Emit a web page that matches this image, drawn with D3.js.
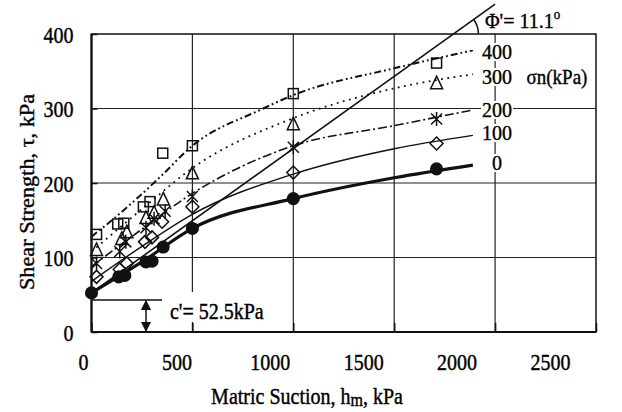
<!DOCTYPE html>
<html><head><meta charset="utf-8">
<script src="https://cdn.jsdelivr.net/npm/d3@7/dist/d3.min.js"></script>
<style>
body{margin:0;background:#fff;}
svg text{font-family:"Liberation Serif","Times New Roman","DejaVu Serif",serif !important;fill:#000;stroke:#000;stroke-width:0.35px;}
</style></head>
<body><svg id="c" width="622" height="412"></svg>
<script>
// ---- data ----
const normalStress = [0, 100, 200, 300, 400];
const cPrime = 52.5;
const phiDeg = 11.1;
const xTicks = [0, 500, 1000, 1500, 2000, 2500];
const yTicks = [0, 100, 200, 300, 400];
// measured points [suction kPa, shear strength kPa]
const pts0   = [[0,52.5],[135,74],[165,76],[270,94],[300,95],[355,114],[500,139],[1000,179],[1710,219]];
const pts100 = [[25,74],[140,84],[175,92],[265,121],[300,127],[350,148],[500,168],[1000,214],[1710,253]];
const pts200 = [[25,92],[140,108],[170,121],[270,140],[310,152],[365,162],[500,182],[1000,248],[1710,286]];
const pts300 = [[25,110],[150,125],[175,134],[270,153],[310,160],[356,178],[500,213],[1000,279],[1710,334]];
const pts400 = [[25,131],[130,145],[160,146],[257,168],[290,175],[353,240],[500,250],[1000,320],[1710,361]];
// fitted curves
const fit0   = [[0,52.5],[250,94],[500,139],[1000,179],[1500,207],[1890,224]];
const fit100 = [[0,68],[250,115],[500,158],[1000,212],[1500,246],[1890,264]];
const fit200 = [[0,88],[250,138],[500,186],[1000,250],[1500,277],[1890,298]];
const fit300 = [[0,108],[250,165],[500,220],[1000,287],[1500,327],[1890,346]];
const fit400 = [[0,128],[110,152],[340,208],[500,250],[835,298],[1000,318],[1500,354],[1890,378]];
// phi' envelope end points
const phiLine = [[0,52.5],[2000,440]];

const FONT = '"Liberation Serif","Times New Roman","DejaVu Serif",serif';
const SY = 1.2; // vertical stretch of lettering as in the scanned figure
const svg = d3.select("#c");
const x = d3.scaleLinear().domain([0,2500]).range([91.5,596]);
const y = d3.scaleLinear().domain([0,400]).range([332,34]);
const xLab = d3.scaleLinear().domain([0,2500]).range([83,550]);

function txt(px, py, anchor, size, sy){
 return svg.append("text").attr("transform",`translate(${px},${py}) scale(1,${sy===undefined?SY:sy})`)
  .attr("text-anchor",anchor).style("font-size",size+"px");
}

// grid
const g = svg.append("g");
g.selectAll(".hg").data([100,200,300]).enter().append("line")
 .attr("x1",x(0)).attr("x2",x(2500)).attr("y1",d=>y(d)).attr("y2",d=>y(d))
 .attr("stroke","#222").attr("stroke-width",1.2);
g.selectAll(".vg").data([500,1000,1500,2000]).enter().append("line")
 .attr("y1",y(0)).attr("y2",y(400)).attr("x1",d=>x(d)).attr("x2",d=>x(d))
 .attr("stroke","#222").attr("stroke-width",1.2);

// frame
svg.append("rect").attr("x",x(0)).attr("y",y(400)).attr("width",x(2500)-x(0)).attr("height",y(0)-y(400))
 .attr("fill","none").attr("stroke","#111").attr("stroke-width",1.5);
svg.append("line").attr("x1",x(0)).attr("x2",x(0)).attr("y1",y(0)).attr("y2",y(400)).attr("stroke","#111").attr("stroke-width",2.2);
svg.append("line").attr("x1",x(0)).attr("x2",x(2500)).attr("y1",y(0)).attr("y2",y(0)).attr("stroke","#111").attr("stroke-width",2.2);

// inward ticks
svg.append("g").attr("transform",`translate(0,${y(0)})`)
 .call(d3.axisBottom(x).tickValues(xTicks).tickSize(-9).tickFormat(""))
 .call(a=>a.select(".domain").remove()).selectAll("line").attr("stroke","#111").attr("stroke-width",1.5);
svg.append("g").attr("transform",`translate(${x(0)},0)`)
 .call(d3.axisLeft(y).tickValues(yTicks).tickSize(-6).tickFormat(""))
 .call(a=>a.select(".domain").remove()).selectAll("line").attr("stroke","#111").attr("stroke-width",1.5);

// tick labels
svg.append("g").attr("transform",`translate(0,${y(0)+38})`)
 .call(d3.axisBottom(xLab).tickValues(xTicks).tickSize(0).tickPadding(0).tickFormat(d3.format("d")))
 .call(a=>a.select(".domain").remove())
 .attr("font-family",FONT).attr("font-size",20)
 .selectAll("text").attr("dy",null).attr("y",0).attr("transform",`scale(1,${SY})`);
svg.append("g").attr("transform",`translate(${x(0)},0)`)
 .call(d3.axisLeft(y).tickValues(yTicks).tickSize(0).tickPadding(18).tickFormat(d3.format("d")))
 .call(a=>a.select(".domain").remove())
 .attr("font-family",FONT).attr("font-size",20)
 .selectAll("text").attr("dy","0.34em").attr("transform",`scale(1,${SY})`);

// fitted curves
const line = d3.line().x(d=>x(d[0])).y(d=>y(d[1])).curve(d3.curveMonotoneX);
const fits = [
 {d:fit0, w:3.2, dash:null},
 {d:fit100, w:1.4, dash:null},
 {d:fit200, w:1.6, dash:"9,3,2,3"},
 {d:fit300, w:1.8, dash:"1.8,4.5"},
 {d:fit400, w:2, dash:"7,3,1.8,3,1.8,3"}
];
fits.forEach(f=>{
 svg.append("path").attr("d",line(f.d)).attr("fill","none").attr("stroke","#111")
  .attr("stroke-width",f.w).attr("stroke-dasharray",f.dash);
});

// phi' line
svg.append("line").attr("x1",x(phiLine[0][0])).attr("y1",y(phiLine[0][1]))
 .attr("x2",x(phiLine[1][0])).attr("y2",y(phiLine[1][1])).attr("stroke","#111").attr("stroke-width",1.6);
{
 const px0=x(phiLine[0][0]), py0=y(phiLine[0][1]), px1=x(phiLine[1][0]), py1=y(phiLine[1][1]);
 const t=(py0-y(400))/(py0-py1);
 const cx=px0+t*(px1-px0), cy=y(400);
 const ang=Math.atan2(py0-py1, px1-px0);
 const r=25;
 svg.append("path").attr("d",`M${cx+r},${cy} A${r},${r} 0 0 0 ${cx+r*Math.cos(ang)},${cy-r*Math.sin(ang)}`)
  .attr("fill","none").attr("stroke","#111").attr("stroke-width",1.5);
}

// markers
const mk = svg.append("g").attr("stroke","#111").attr("stroke-width",1.5).attr("fill","none");
pts0.forEach(p=>mk.append("circle").attr("cx",x(p[0])).attr("cy",y(p[1])).attr("r",5.8).attr("fill","#111"));
pts100.forEach(p=>mk.append("path").attr("transform",`translate(${x(p[0])},${y(p[1])})`).attr("d","M0,-6.5L6.5,0L0,6.5L-6.5,0Z"));
pts200.forEach(p=>mk.append("path").attr("transform",`translate(${x(p[0])},${y(p[1])})`).attr("d","M-5.5,-5.5L5.5,5.5M-5.5,5.5L5.5,-5.5M0,-7L0,7"));
pts300.forEach(p=>mk.append("path").attr("transform",`translate(${x(p[0])},${y(p[1])})`).attr("d","M0,-7L6,5.5L-6,5.5Z"));
pts400.forEach(p=>mk.append("rect").attr("x",x(p[0])-5).attr("y",y(p[1])-5).attr("width",10).attr("height",10));

// right-side stress labels
const labY = {400:52, 300:77, 200:110, 100:133, 0:163};
normalStress.forEach(s=>{
 svg.append("rect").attr("x",481).attr("y",labY[s]-9).attr("width",32).attr("height",18).attr("fill","#fff");
});
normalStress.forEach(s=>{ txt(497, labY[s]+7, "middle", 20, 1.05).text(s); });
svg.append("rect").attr("x",522).attr("y",66).attr("width",70).attr("height",22).attr("fill","#fff");
txt(557, 84, "middle", 19, 1.1).text("σn(kPa)");

// phi label
const pt = txt(485, 28, "start", 20, 1.1);
pt.append("tspan").text(`Φ'= ${phiDeg}`);
pt.append("tspan").attr("dy",-8).style("font-size","13px").text("o");

// c' annotation
svg.append("rect").attr("x",166).attr("y",292).attr("width",104).attr("height",30).attr("fill","#fff");
svg.append("line").attr("x1",x(0)).attr("x2",162).attr("y1",y(cPrime)+7).attr("y2",y(cPrime)+7).attr("stroke","#111").attr("stroke-width",1.5);
svg.append("defs").html('<marker id="ah" viewBox="0 0 10 10" refX="9" refY="5" markerWidth="7" markerHeight="7" orient="auto-start-reverse"><path d="M0,0L10,5L0,10Z" fill="#111"/></marker>');
svg.append("line").attr("x1",146).attr("x2",146).attr("y1",y(cPrime)+8).attr("y2",y(0)-1)
 .attr("stroke","#111").attr("stroke-width",1.5).attr("marker-start","url(#ah)").attr("marker-end","url(#ah)");
txt(170, 319, "start", 20).text(`c'= ${cPrime}kPa`);

// axis titles
const xt = txt(307, 404, "middle", 20);
xt.append("tspan").text("Matric Suction, h");
xt.append("tspan").attr("dy",2).style("font-size","16px").text("m");
xt.append("tspan").attr("dy",-2).text(", kPa");
svg.append("text").attr("transform","translate(34,192) rotate(-90) scale(1.06,1)").attr("text-anchor","middle")
 .style("font-size","21px").text("Shear Strength, τ, kPa");
</script></body></html>
